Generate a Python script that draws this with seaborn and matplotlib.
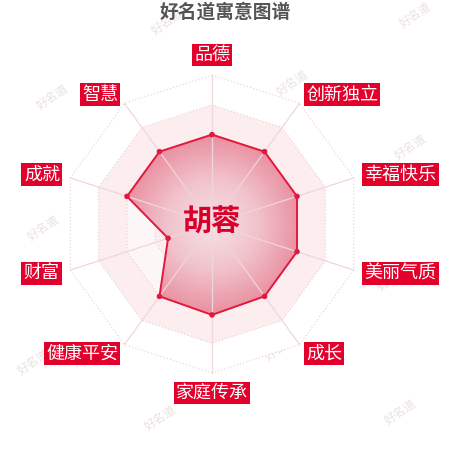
import numpy as np
import pandas as pd
import seaborn as sns
import matplotlib.pyplot as plt
from matplotlib.patches import Polygon
from matplotlib.colors import LinearSegmentedColormap

title = '好名道寓意图谱'
name = '胡蓉'
dims = ['品德', '创新独立', '幸福快乐', '美丽气质', '成长', '家庭传承', '健康平安', '财富', '成就', '智慧']
scores = [60, 60, 60, 60, 60, 61, 60, 31, 60, 60]
max_score = 100
levels = 5
watermark = '好名道'

sns.set_theme(style='white')
plt.rcParams['font.family'] = ['Noto Sans CJK SC', 'DejaVu Sans']

# layout in pixel units (450x450 canvas)
cx, cy, R = 212, 224, 149
ang = np.arange(len(dims)) * 2 * np.pi / len(dims)


def to_xy(r, a):
    return cx + r * np.sin(a), cy - r * np.cos(a)


fig = plt.figure(figsize=(4.5, 4.5), dpi=100)
ax = fig.add_axes([0, 0, 1, 1])

# watermarks
wm_pos = [(167, 22), (415, 15), (52, 97), (292, 83), (410, 147), (43, 228),
          (393, 278), (152, 295), (280, 348), (33, 362), (160, 418), (400, 412)]
for wx, wy in wm_pos:
    ax.text(wx, wy, watermark, fontsize=8.5, color='#ebe1e1', rotation=35,
            ha='center', va='center', zorder=0)

# split areas + dotted rings
band_colors = ['#fdf6f7', '#fcedef', '#fdf6f7', '#fcedef', '#ffffff']
for k in range(levels, 0, -1):
    px, py = to_xy(R * k / levels, ang)
    ax.add_patch(Polygon(np.column_stack([px, py]), closed=True,
                         fc=band_colors[k - 1], ec='#ecccd1', lw=0.8,
                         ls=(0, (1, 2)), zorder=1))

# data polygon with radial gradient
r_vals = np.array(scores) / max_score * R
xs, ys = to_xy(r_vals, ang)
poly = Polygon(np.column_stack([xs, ys]), closed=True, fc='none', ec='none')
ax.add_patch(poly)
gx, gy = np.meshgrid(np.arange(450), np.arange(450))
dist = np.clip(np.hypot(gx - cx, gy - cy) / 92, 0, 1)
cmap = LinearSegmentedColormap.from_list('g', ['#f8e2e6', '#f1c2cb', '#e98c9d'])
img = ax.imshow(dist, cmap=cmap, extent=(0, 450, 450, 0), zorder=2,
                interpolation='bilinear')
img.set_clip_path(poly)

# axis lines
for a in ang:
    ex, ey = to_xy(R, a)
    ax.plot([cx, ex], [cy, ey], color='#efd6da', lw=0.9, zorder=3)

df = pd.DataFrame({'x': np.append(xs, xs[0]), 'y': np.append(ys, ys[0])})
sns.lineplot(data=df, x='x', y='y', sort=False, estimator=None,
             color='#e2183c', lw=1.4, ax=ax, zorder=4, legend=False)
sns.scatterplot(x=xs, y=ys, color='#e2183c', s=16, edgecolor='none', ax=ax,
                zorder=5, legend=False)

# axis names
for d, a in zip(dims, ang):
    lx, ly = to_xy(R + 11, a)
    s, c = np.sin(a), np.cos(a)
    ha = 'left' if s > 0.1 else ('right' if s < -0.1 else 'center')
    va = 'bottom' if c > 0.9 else ('top' if c < -0.9 else 'center')
    ax.text(lx, ly, d, fontsize=13, color='white', ha=ha, va=va, zorder=6,
            bbox=dict(boxstyle='square,pad=0.13', fc='#e3002b', ec='none'))

ax.text(cx, cy - 2, name, fontsize=21, fontweight='bold', color='#d8002b',
        ha='center', va='center', zorder=6)
fig.text(0.5, 1 - 12 / 450, title, fontsize=13.5, fontweight='bold',
         color='#555555', ha='center', va='center')

ax.set_xlim(0, 450)
ax.set_ylim(450, 0)
ax.set_aspect('equal')
ax.axis('off')
fig.savefig('out.png', dpi=100)
